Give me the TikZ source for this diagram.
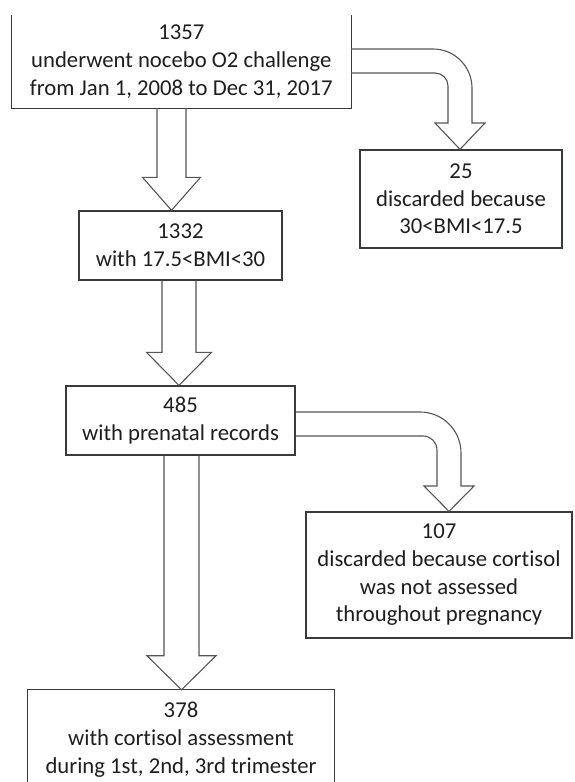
\documentclass[tikz,border=0pt]{standalone}
\usepackage{fontspec}
\setmainfont{Carlito}[Ligatures={NoCommon}]
\usetikzlibrary{calc}
\definecolor{boxline}{HTML}{3A3A3A}
\definecolor{arrline}{HTML}{555555}
\definecolor{txt}{HTML}{1E1E1E}
\tikzset{
  stagebox/.style={rectangle, inner sep=0pt, align=center, text=txt,
    font=\fontsize{22.7}{27.7}\selectfont},
  boxed/.style={draw=boxline, line width=1.3pt},
  barrow/.style={draw=arrline, line width=1.1pt, line join=miter},
  openbox/.style={draw=boxline, line width=1.3pt}
}
\newcommand\downblock[6]{%
  \draw[barrow] let \p1=(#1.south), \p2=(#2.north) in
    ({#3-#4},\y1) -- ({#3-#4},{\y2+#6}) -- ({#3-#5},{\y2+#6}) -- (#3,\y2)
    -- ({#3+#5},{\y2+#6}) -- ({#3+#4},{\y2+#6}) -- ({#3+#4},\y1);}
\begin{document}
\begin{tikzpicture}[x=1pt,y=1pt]
\useasboundingbox (0,0) rectangle (574,782);
% nodes
\node[stagebox, minimum width=339.3pt, minimum height=93pt] (b1) at (181.3,720.5)
  {1357\\underwent nocebo O2 challenge\\from Jan 1, 2008 to Dec 31, 2017};
\node[stagebox, boxed, minimum width=202pt, minimum height=98pt] (r1) at (461,583)
  {25\\discarded because\\30<BMI<17.5};
\node[stagebox, boxed, minimum width=203pt, minimum height=69pt] (b2) at (180.5,536.5)
  {1332\\with 17.5<BMI<30};
\node[stagebox, boxed, minimum width=229pt, minimum height=69pt] (b3) at (180.5,361.5)
  {485\\with prenatal records};
\node[stagebox, boxed, minimum width=266pt, minimum height=126pt] (r2) at (439,207)
  {107\\discarded because cortisol\\was not assessed\\throughout pregnancy};
\node[stagebox, minimum width=306pt, minimum height=99pt] (b4) at (181,42.5)
  {378\\with cortisol assessment\\during 1st, 2nd, 3rd trimester};
% open (cropped) boxes
\draw[openbox] let \p1=(b1.south west), \p2=(b1.north east) in
  (\x1,\y2) -- (\x1,\y1) -- (\x2,\y1) -- (\x2,\y2);
\draw[openbox] let \p1=(b4.north west), \p2=(b4.north east) in
  (\x1,0) -- (\x1,\y1) -- (\x2,\y1) -- (\x2,0);
% straight block arrows
\downblock{b1}{b2}{171.5}{14.5}{29}{33}
\downblock{b2}{b3}{179}{17}{32.5}{33}
\downblock{b3}{b4}{181.5}{17.5}{34.5}{34}
% bent block arrows
\draw[barrow] let \p1=(b1.east), \p2=(r1.north) in
  (\x1,733) -- (433,733) arc[start angle=90,end angle=0,radius=39]
  -- (472,659) -- (485,659) -- (460,\y2) -- (435,659) -- (448,659)
  -- (448,696) arc[start angle=0,end angle=90,radius=13] -- (\x1,709);
\draw[barrow] let \p1=(b3.east), \p2=(r2.north) in
  (\x1,370) -- (420,370) arc[start angle=90,end angle=0,radius=41]
  -- (461,296) -- (474,296) -- (449,\y2) -- (424,296) -- (437,296)
  -- (437,332) arc[start angle=0,end angle=90,radius=14] -- (\x1,346);
\end{tikzpicture}
\end{document}
